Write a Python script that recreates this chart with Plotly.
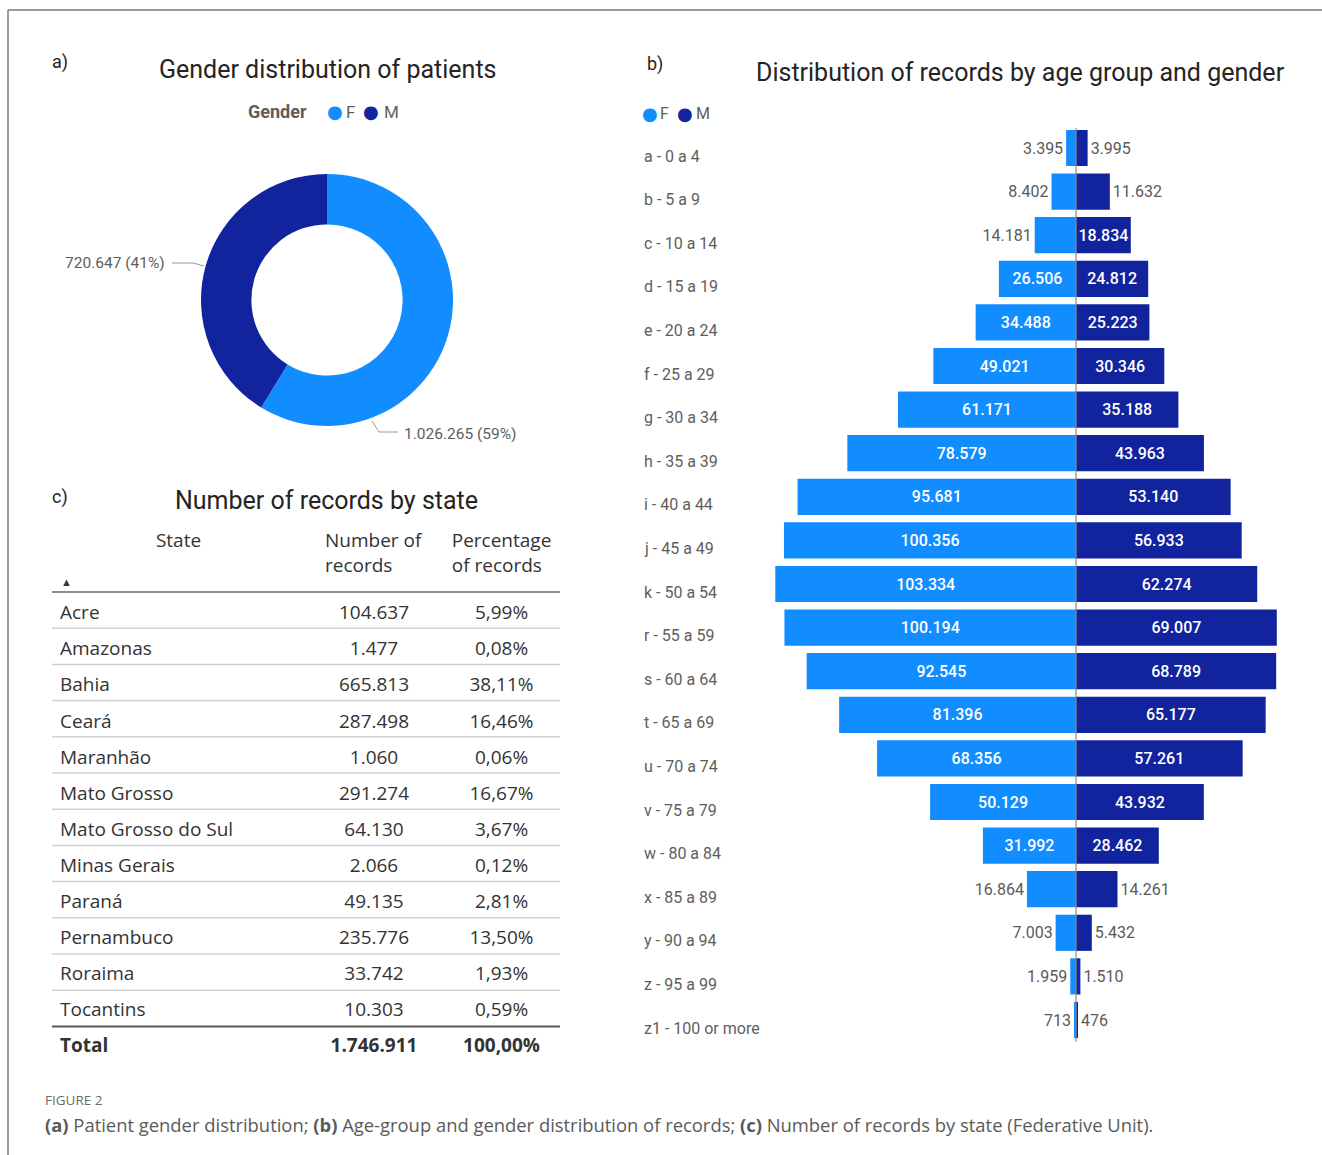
import plotly.graph_objects as go

W, H = 1322, 1155


def px(x):
    return x / W


def py(y):
    return 1 - y / H


# ---------------- data ----------------
gender_labels = ["F", "M"]
gender_values = [1026265, 720647]
gender_colors = ["#118DFF", "#12239E"]

age_groups = [
    "a - 0 a 4", "b - 5 a 9", "c - 10 a 14", "d - 15 a 19", "e - 20 a 24",
    "f - 25 a 29", "g - 30 a 34", "h - 35 a 39", "i - 40 a 44", "j - 45 a 49",
    "k - 50 a 54", "r - 55 a 59", "s - 60 a 64", "t - 65 a 69", "u - 70 a 74",
    "v - 75 a 79", "w - 80 a 84", "x - 85 a 89", "y - 90 a 94", "z - 95 a 99",
    "z1 - 100 or more",
]
female_records = [3395, 8402, 14181, 26506, 34488, 49021, 61171, 78579, 95681, 100356,
                  103334, 100194, 92545, 81396, 68356, 50129, 31992, 16864, 7003, 1959, 713]
male_records = [3995, 11632, 18834, 24812, 25223, 30346, 35188, 43963, 53140, 56933,
                62274, 69007, 68789, 65177, 57261, 43932, 28462, 14261, 5432, 1510, 476]

states = ["Acre", "Amazonas", "Bahia", "Ceará", "Maranhão", "Mato Grosso",
          "Mato Grosso do Sul", "Minas Gerais", "Paraná", "Pernambuco", "Roraima", "Tocantins"]
state_records = [104637, 1477, 665813, 287498, 1060, 291274, 64130, 2066, 49135, 235776, 33742, 10303]
state_pct = [5.99, 0.08, 38.11, 16.46, 0.06, 16.67, 3.67, 0.12, 2.81, 13.50, 1.93, 0.59]

table_headers = ["State", "Number of<br>records", "Percentage<br>of records"]


def fmt_int(n):
    return f"{n:,}".replace(",", ".")


def fmt_pct(p):
    return f"{p:.2f}".replace(".", ",") + "%"


LIGHT, DARK = gender_colors
TITLE_FONT = "Roboto"
LABEL_FONT = "Roboto"
TABLE_FONT = "Open Sans"

fig = go.Figure()

# ---------------- a) donut ----------------
fig.add_trace(go.Pie(
    labels=gender_labels, values=gender_values,
    marker=dict(colors=gender_colors, line=dict(width=0)),
    hole=0.6, sort=False, direction="clockwise", rotation=0,
    textinfo="none", hoverinfo="skip", showlegend=False,
    domain=dict(x=[px(201), px(453)], y=[py(426), py(174)]),
))

total_gender = sum(gender_values)
pie_text = {lab: f"{fmt_int(v)} ({round(100 * v / total_gender)}%)"
            for lab, v in zip(gender_labels, gender_values)}

# ---------------- b) pyramid ----------------
THRESH = 18000
CENTER_PX = 1076
PX_PER_UNIT = 0.00291
DOM_L, DOM_R = 770, 1320
x_range = [-(CENTER_PX - DOM_L) / PX_PER_UNIT, (DOM_R - CENTER_PX) / PX_PER_UNIT]

bar_common = dict(
    orientation="h", insidetextanchor="middle", textangle=0, constraintext="none",
    insidetextfont=dict(color="white", size=16, family=LABEL_FONT, weight=500),
    outsidetextfont=dict(color="#5a5a5a", size=16, family=LABEL_FONT),
    cliponaxis=False, hoverinfo="skip", showlegend=False, xaxis="x", yaxis="y",
)
fig.add_trace(go.Bar(
    y=age_groups, x=[-v for v in female_records],
    marker=dict(color=LIGHT, line=dict(width=0)),
    text=[fmt_int(v) for v in female_records],
    textposition=["inside" if v >= THRESH else "outside" for v in female_records],
    **bar_common,
))
fig.add_trace(go.Bar(
    y=age_groups, x=male_records,
    marker=dict(color=DARK, line=dict(width=0)),
    text=[fmt_int(v) for v in male_records],
    textposition=["inside" if v >= THRESH else "outside" for v in male_records],
    **bar_common,
))

Y_TOP, Y_BOT = 126.2, 1041.8

# ---------------- c) table (header / body / total row) ----------------
T_LEFT, T_RIGHT = 52, 560
COL_W = [253, 138, 117]
HEADER_TOP, HEADER_H = 519, 67
BODY_TOP, ROW_H = 581, 36.1
TOTAL_TOP = 1008
LINE_TOP, LINE_STEP = 592, 36.2
n_body = len(states)

TRANSP = "rgba(0,0,0,0)"
tfont = dict(family=TABLE_FONT, size=19, color="#333333")
table_common = dict(columnwidth=COL_W)

# header
fig.add_trace(go.Table(
    domain=dict(x=[px(T_LEFT), px(T_RIGHT)], y=[py(HEADER_TOP + HEADER_H + 4), py(HEADER_TOP)]),
    header=dict(values=[f"<span>{h}</span>" for h in table_headers],
                align=["center", "center", "center"], height=HEADER_H,
                fill=dict(color=TRANSP), line=dict(color=TRANSP, width=0), font=tfont),
    cells=dict(values=[[], [], []], fill=dict(color=TRANSP), line=dict(color=TRANSP, width=0)),
    **table_common,
))
# body
fig.add_trace(go.Table(
    domain=dict(x=[px(T_LEFT), px(T_RIGHT)], y=[py(BODY_TOP + 16 + n_body * ROW_H + 6), py(BODY_TOP)]),
    header=dict(values=[], fill=dict(color=TRANSP), line=dict(color=TRANSP, width=0)),
    cells=dict(values=[states, [fmt_int(v) for v in state_records], [fmt_pct(p) for p in state_pct]],
               align=["left", "center", "center"], height=ROW_H,
               fill=dict(color=TRANSP), line=dict(color=TRANSP, width=0), font=tfont),
    **table_common,
))
# total row
fig.add_trace(go.Table(
    domain=dict(x=[px(T_LEFT), px(T_RIGHT)], y=[py(TOTAL_TOP + 64), py(TOTAL_TOP)]),
    header=dict(values=[], fill=dict(color=TRANSP), line=dict(color=TRANSP, width=0)),
    cells=dict(values=[["<b>Total</b>"], [f"<b>{fmt_int(sum(state_records))}</b>"],
                       [f"<b>{fmt_pct(100.0)}</b>"]],
               align=["left", "center", "center"], height=ROW_H,
               fill=dict(color=TRANSP), line=dict(color=TRANSP, width=0), font=tfont),
    **table_common,
))

# ---------------- shapes ----------------
shapes = []
# figure frame
shapes.append(dict(type="line", xref="paper", yref="paper", x0=px(8), x1=1, y0=py(10), y1=py(10),
                   line=dict(color="#7a7a7a", width=1.5)))
shapes.append(dict(type="line", xref="paper", yref="paper", x0=px(8), x1=px(8), y0=py(10), y1=0,
                   line=dict(color="#7a7a7a", width=1.5)))
# pyramid center line
shapes.append(dict(type="line", xref="x", yref="paper", x0=0, x1=0, y0=py(Y_BOT), y1=py(Y_TOP + 2),
                   line=dict(color="#8a8a8a", width=1.2), layer="above"))
# donut leader lines
shapes.append(dict(type="path", xref="paper", yref="paper",
                   path=f"M {px(172)} {py(263)} L {px(193)} {py(263)} L {px(204)} {py(266)}",
                   line=dict(color="#9a9a9a", width=1)))
shapes.append(dict(type="path", xref="paper", yref="paper",
                   path=f"M {px(372)} {py(421)} L {px(379)} {py(432)} L {px(398)} {py(432)}",
                   line=dict(color="#9a9a9a", width=1)))
# table rules
shapes.append(dict(type="line", xref="paper", yref="paper", x0=px(T_LEFT), x1=px(T_RIGHT),
                   y0=py(LINE_TOP), y1=py(LINE_TOP), line=dict(color="#8c8c8c", width=2)))
for i in range(1, n_body):
    yy = LINE_TOP + i * LINE_STEP
    shapes.append(dict(type="line", xref="paper", yref="paper", x0=px(T_LEFT), x1=px(T_RIGHT),
                       y0=py(yy), y1=py(yy), line=dict(color="#d0d0d0", width=1.5)))
yy = LINE_TOP + n_body * LINE_STEP
shapes.append(dict(type="line", xref="paper", yref="paper", x0=px(T_LEFT), x1=px(T_RIGHT),
                   y0=py(yy), y1=py(yy), line=dict(color="#555555", width=2)))

# ---------------- annotations ----------------
ann = []


def text(x, y, s, size, color="#252423", family=TITLE_FONT, xanchor="left", yanchor="middle", **kw):
    ann.append(dict(x=px(x), y=py(y), xref="paper", yref="paper", text=s, showarrow=False,
                    xanchor=xanchor, yanchor=yanchor,
                    font=dict(size=size, color=color, family=family), **kw))


# panel letters & titles
text(50, 62, "a)", 18)
text(327, 69, "Gender distribution of patients", 25, xanchor="center")
text(645, 64, "b)", 18)
text(1020, 72, "Distribution of records by age group and gender", 25, xanchor="center")
text(50, 497, "c)", 18)
text(326, 500, "Number of records by state", 25, xanchor="center")

# legends (dot glyph + label)
LEG_GRAY = "#605E5C"
text(246, 112, "<b>Gender</b>", 18, color=LEG_GRAY, family=LABEL_FONT)
leg_a = [(335, 344, 112), (371, 382, 112)]
leg_b = [(650, 658, 113), (685, 694, 113)]
for (dx, tx, yy), lab, col in zip(leg_a, gender_labels, gender_colors):
    text(dx, yy, "●", 18, color=col, family="DejaVu Sans", xanchor="center")
    text(tx, yy, lab, 17, color=LEG_GRAY, family=LABEL_FONT)
for (dx, tx, yy), lab, col in zip(leg_b, gender_labels, gender_colors):
    text(dx, yy, "●", 18, color=col, family="DejaVu Sans", xanchor="center")
    text(tx, yy, lab, 16, color=LEG_GRAY, family=LABEL_FONT)

# donut labels
text(167, 263, pie_text["M"], 15.5, color=LEG_GRAY, family=LABEL_FONT, xanchor="right")
text(402, 434, pie_text["F"], 15.5, color=LEG_GRAY, family=LABEL_FONT, xanchor="left")

# age group labels
for g in age_groups:
    ann.append(dict(x=px(642), xref="paper", y=g, yref="y", yshift=-8, text=g, showarrow=False,
                    xanchor="left", yanchor="middle",
                    font=dict(size=16, color=LEG_GRAY, family=LABEL_FONT)))

# table sort arrow
text(66, 581, "▲", 11, color="#333333", family=TABLE_FONT, xanchor="center")

# caption
text(43, 1100, "FIGURE 2", 13.5, color="#6b6b6b", family=TABLE_FONT)
text(43, 1124,
     "<b>(a)</b> Patient gender distribution; <b>(b)</b> Age-group and gender distribution of records; "
     "<b>(c)</b> Number of records by state (Federative Unit).",
     18.4, color="#5a5a5a", family=TABLE_FONT)

fig.update_layout(
    width=W, height=H, margin=dict(l=0, r=0, t=0, b=0),
    paper_bgcolor="white", plot_bgcolor="white",
    showlegend=False, barmode="relative", bargap=0.17,
    xaxis=dict(domain=[px(DOM_L), px(DOM_R)], range=x_range, visible=False, fixedrange=True),
    yaxis=dict(domain=[py(Y_BOT), py(Y_TOP)], type="category", categoryorder="array",
               categoryarray=age_groups, range=[len(age_groups) - 0.5, -0.5],
               visible=False, fixedrange=True),
    shapes=shapes, annotations=ann,
)

fig.write_html("out.html", config={"displayModeBar": False},
               post_script="document.body.style.margin='0';")
